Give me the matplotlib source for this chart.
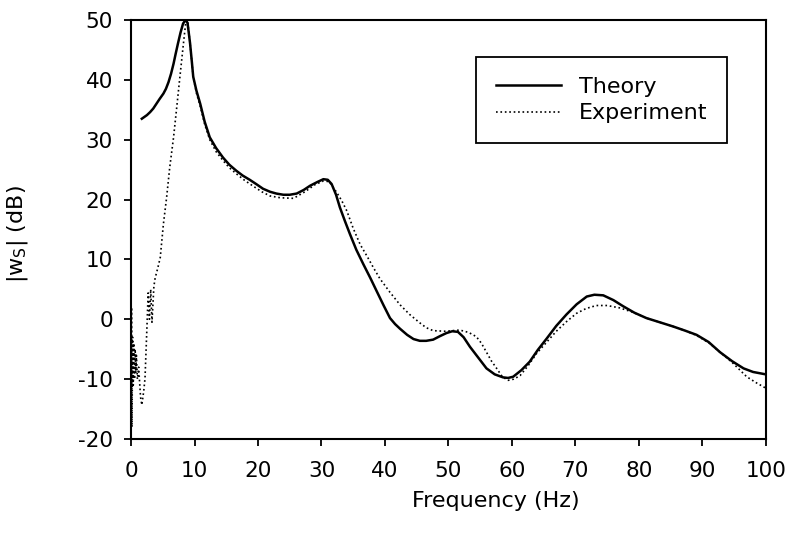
import matplotlib
import matplotlib.pyplot as plt

matplotlib.use('Agg')

# theory curve (frequency in Hz, magnitude in dB)
theory_f = [1.7, 2.5, 3.0, 3.5, 4.0, 4.5, 5.1, 5.5, 5.9, 6.3, 6.7, 7.0, 7.4, 7.8,
            8.2, 8.6, 8.9, 9.3, 9.6, 9.8, 10.3, 10.9, 11.6, 12.4, 13.4, 14.5, 15.5,
            16.6, 17.6, 18.7, 19.7, 20.8, 21.9, 22.9, 24.0, 25.0, 26.1, 27.2, 28.2,
            29.3, 30.3, 31.0, 31.6, 32.3, 32.9, 33.7, 34.5, 35.5, 36.6, 37.7, 38.7,
            39.8, 40.8, 41.6, 42.4, 43.5, 44.5, 45.5, 46.5, 47.6, 48.7, 49.7, 50.6,
            51.5, 52.4, 53.4, 54.7, 56.0, 57.3, 58.6, 59.4, 60.2, 61.5, 62.8, 64.1,
            65.5, 67.0, 68.6, 70.2, 71.8, 73.0, 74.4, 76.0, 77.5, 79.3, 81.2, 83.3,
            85.4, 87.3, 89.1, 91.0, 92.8, 94.7, 96.5, 98.0, 100.0]
theory_db = [33.5, 34.1, 34.6, 35.2, 36.0, 36.8, 37.7, 38.5, 39.6, 41.0, 42.7, 44.2,
             46.1, 47.9, 49.4, 50.0, 49.5, 46.1, 42.8, 40.5, 38.2, 36.0, 33.0, 30.4,
             28.6, 27.0, 25.8, 24.8, 24.0, 23.3, 22.6, 21.8, 21.3, 21.0, 20.8, 20.8,
             21.0, 21.6, 22.3, 22.9, 23.4, 23.3, 22.6, 20.8, 18.7, 16.4, 14.2, 11.6,
             9.2, 6.9, 4.7, 2.3, 0.2, -0.8, -1.6, -2.6, -3.3, -3.6, -3.6, -3.4,
             -2.8, -2.3, -2.0, -2.1, -3.0, -4.6, -6.4, -8.2, -9.2, -9.7, -9.8, -9.6,
             -8.5, -7.1, -5.1, -3.2, -1.1, 0.8, 2.5, 3.8, 4.1, 4.0, 3.2, 2.2, 1.1,
             0.2, -0.5, -1.2, -1.9, -2.6, -3.8, -5.5, -7.0, -8.2, -8.8, -9.2]

# experimental curve
exp_f = [0.0, 0.08, 0.15, 0.25, 0.35, 0.45, 0.55, 0.65, 0.75, 0.85, 1.0, 1.2, 1.5,
         1.7, 2.0, 2.2, 2.5, 2.7, 2.9, 3.1, 3.3, 3.6, 3.8, 4.2, 4.6, 5.1, 5.6, 6.1,
         6.7, 7.2, 7.7, 8.2, 8.6, 8.9, 9.3, 9.8, 10.3, 10.9, 11.6, 12.4, 13.4, 14.5,
         15.5, 16.6, 17.9, 19.3, 20.6, 21.9, 23.5, 25.6, 27.4, 29.0, 30.3, 31.2,
         32.4, 33.2, 34.0, 35.0, 36.1, 37.2, 38.2, 39.2, 40.8, 42.4, 43.9, 45.5,
         46.5, 47.6, 49.5, 51.8, 53.2, 54.4, 55.2, 56.0, 56.8, 57.6, 58.5, 59.4,
         60.3, 61.3, 62.6, 63.9, 65.5, 67.0, 68.6, 70.2, 71.7, 73.3, 75.0, 77.0,
         79.0, 81.2, 83.3, 85.4, 87.3, 89.1, 91.0, 92.8, 94.7, 97.0, 98.5, 100.0]
exp_db = [-20.0, 2.0, -18.0, -3.0, -11.0, -4.0, -10.0, -5.0, -9.0, -6.0, -10.0,
          -8.0, -13.0, -14.3, -12.0, -9.9, -1.5, 4.4, 0.0, 5.0, -0.5, 5.5, 6.9,
          8.5, 10.3, 15.9, 20.3, 25.4, 30.4, 35.4, 40.5, 45.5, 49.4, 50.0, 46.1,
          40.5, 37.8, 35.6, 32.6, 30.0, 28.0, 26.5, 25.3, 24.3, 23.2, 22.2, 21.3,
          20.6, 20.3, 20.2, 21.3, 22.5, 23.1, 23.0, 21.2, 19.8, 18.1, 15.2, 12.5,
          10.5, 8.6, 6.8, 4.5, 2.4, 0.8, -0.6, -1.4, -1.9, -2.0, -1.8, -2.2, -2.9,
          -4.0, -5.5, -7.0, -8.2, -9.6, -10.2, -10.0, -9.4, -7.7, -5.7, -3.8, -2.0,
          -0.4, 1.0, 1.8, 2.3, 2.3, 1.9, 1.2, 0.2, -0.5, -1.2, -1.9, -2.7, -3.9,
          -5.5, -7.2, -9.6, -10.6, -11.5]

x_ticks = list(range(0, 101, 10))
y_ticks = list(range(-20, 51, 10))

plt.rcParams['font.family'] = ['DejaVu Sans']
plt.rcParams['axes.unicode_minus'] = False

fig = plt.figure(figsize=(7.87, 5.39), dpi=100)
ax = fig.add_axes([0.1665, 0.1855, 0.8065, 0.7775])

ax.plot(theory_f, theory_db, '-', color='black', linewidth=1.8, label='Theory')
ax.plot(exp_f, exp_db, ':', color='black', linewidth=1.2, label='Experiment')

ax.set_xlim(0, 100)
ax.set_ylim(-20, 50)
ax.set_xticks(x_ticks)
ax.set_yticks(y_ticks)
ax.tick_params(direction='out', length=5, width=1.3, labelsize=15.5, pad=8)
ax.tick_params(axis='x', pad=11)
for spine in ax.spines.values():
    spine.set_linewidth(1.5)

ax.set_xlabel('Frequency (Hz)', fontsize=16)
ax.set_ylabel('|w$_\\mathregular{S}$| (dB)', fontsize=16)
ax.xaxis.set_label_coords(0.575, -0.125)
ax.yaxis.set_label_coords(-0.159, 0.49)

leg = ax.legend(loc='upper right', bbox_to_anchor=(0.939, 0.912), fontsize=16,
                frameon=True, fancybox=False, framealpha=1, edgecolor='black',
                handlelength=2.9, borderpad=0.9, labelspacing=0.3,
                handletextpad=0.8, borderaxespad=0)
leg.get_frame().set_linewidth(1.3)

fig.savefig('out.png', dpi=100)
